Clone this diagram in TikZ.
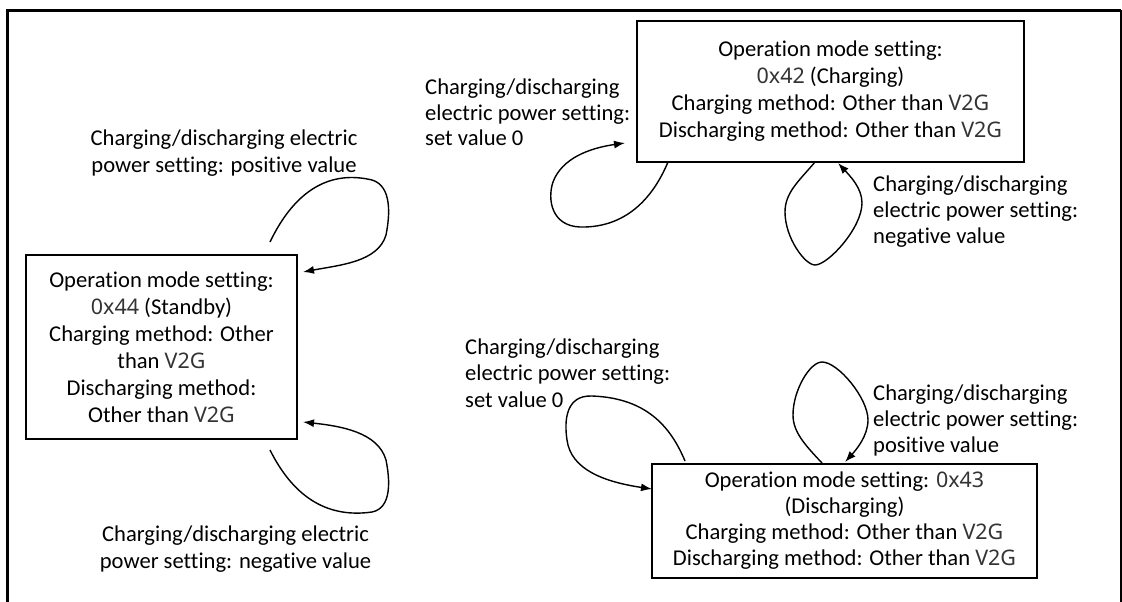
\documentclass[tikz,border=0pt]{standalone}
\usepackage{fontspec}
\setmainfont{Carlito}[Ligatures=NoCommon]
\newfontfamily\hexfont{Noto Sans}[Scale=0.95]
\usetikzlibrary{arrows.meta}
\newcommand{\hx}[1]{{\hexfont\color{black!80}#1}}
\begin{document}
\begin{tikzpicture}[x=1pt,y=-1pt,
  every node/.style={font=\fontsize{22.6}{27}\selectfont, inner sep=0pt},
  statebox/.style={draw, line width=1.3pt, align=center},
  lbl/.style={align=left, anchor=west},
  lblc/.style={align=center},
  selfarc/.style={line width=1.4pt, -{Latex[length=11pt,width=8pt]}},
]
\useasboundingbox (0,0) rectangle (1122,602);
% frame (open at the bottom)
\draw[line width=2.6pt] (7.7,602) -- (7.7,10.5) -- (1121,10.5);
\draw[line width=2pt] (1121,10.5) -- (1121,602);

% state boxes
\node[statebox, minimum width=271, minimum height=184] (A) at (161.5,347)
  {Operation mode setting:\\ \hx{0x44} (Standby)\\ Charging method: Other\\ than \hx{V2G}\\ Discharging method:\\ Other than \hx{V2G}};
\node[statebox, minimum width=387, minimum height=141] (B) at (830.5,91.5)
  {Operation mode setting:\\ \hx{0x42} (Charging)\\ Charging method: Other than \hx{V2G}\\ Discharging method: Other than \hx{V2G}};
\node[statebox, minimum width=385, minimum height=114, font=\fontsize{22.6}{26}\selectfont] (C) at (844.5,521)
  {Operation mode setting: \hx{0x43}\\ (Discharging)\\ Charging method: Other than \hx{V2G}\\ Discharging method: Other than \hx{V2G}};

% labels
\node[lblc] (la1) at (224,153.5) {Charging/discharging electric\\ power setting: positive value};
\node[lblc] (la2) at (235.5,549) {Charging/discharging electric\\ power setting: negative value};
\node[lbl, font=\fontsize{22.6}{25.5}\selectfont] (lb1) at (425,112.5) {Charging/discharging\\ electric power setting:\\ set value 0};
\node[lbl, font=\fontsize{22.6}{26}\selectfont] (lb2) at (873,212) {Charging/discharging\\ electric power setting:\\ negative value};
\node[lbl, font=\fontsize{22.6}{26.5}\selectfont] (lc1) at (465,373) {Charging/discharging\\ electric power setting:\\ set value 0};
\node[lbl, font=\fontsize{22.6}{26}\selectfont] (lc2) at (873,420) {Charging/discharging\\ electric power setting:\\ positive value};

% loop end points
\coordinate (a1s) at (270,242);  \coordinate (a1e) at (303,272);
\coordinate (a2s) at (270,450);  \coordinate (a2e) at (303,422);
\coordinate (b1s) at (668,162);  \coordinate (b1e) at (625,143);
\coordinate (b2s) at (815,162);  \coordinate (b2e) at (838,163);
\coordinate (c1s) at (685,461);  \coordinate (c1e) at (652,489);
\coordinate (c2s) at (822,463);  \coordinate (c2e) at (845,462);

% self transitions
\draw[selfarc] (a1s) .. controls (295,190) and (330,170) .. (372,180)
  .. controls (392,186) and (390,215) .. (386,235)
  .. controls (378,262) and (340,265) .. (a1e);
\draw[selfarc] (a2s) .. controls (295,500) and (330,518) .. (372,512)
  .. controls (392,508) and (390,480) .. (386,460)
  .. controls (378,432) and (340,426) .. (a2e);
\draw[selfarc] (b1s) .. controls (650,205) and (620,228) .. (580,227)
  .. controls (552,226) and (547,200) .. (553,182)
  .. controls (562,158) and (590,148) .. (b1e);
\draw[selfarc] (b2s) .. controls (800,180) and (785,192) .. (785,212)
  .. controls (785,238) and (805,265) .. (815,265)
  .. controls (828,265) and (862,228) .. (862,203)
  .. controls (862,188) and (850,176) .. (b2e);
\draw[selfarc] (c1s) .. controls (670,425) and (645,398) .. (592,396)
  .. controls (566,395) and (564,420) .. (567,440)
  .. controls (571,470) and (605,482) .. (c1e);
\draw[selfarc] (c2s) .. controls (805,445) and (793,432) .. (793,415)
  .. controls (793,390) and (810,362) .. (822,362)
  .. controls (838,362) and (868,398) .. (868,420)
  .. controls (868,436) and (856,450) .. (c2e);
\end{tikzpicture}
\end{document}
